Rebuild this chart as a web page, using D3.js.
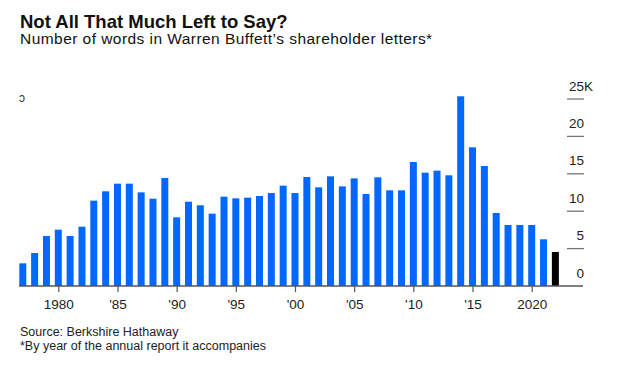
<!DOCTYPE html>
<html>
<head>
<meta charset="utf-8">
<script src="https://cdn.jsdelivr.net/npm/d3@7"></script>
<style>
  body { margin: 0; background: #fff; }
  svg { font-family: "Liberation Sans", Arial, sans-serif; display: block; }
</style>
</head>
<body>
<svg id="chart" width="624" height="370"></svg>
<script>
/* data: words per letter, by report year */
var years = d3.range(1977, 2023);
var words = [
  3030, 4410, 6680, 7530, 6680, 7930, 11410, 12660, 13680, 13680,
  12520, 11670, 14440, 9180, 11270, 10790, 9670, 11940, 11720, 11810,
  12030, 12430, 13410, 12430, 14570, 13190, 14660, 13320, 14390, 12300,
  14530, 12790, 12790, 16580, 15150, 15420, 14800, 25360, 18540, 16040,
  9760, 8160, 8160, 8160, 6240, 4550
];
var xTicks = [1980, 1985, 1990, 1995, 2000, 2005, 2010, 2015, 2020];
var xTickLabels = ['1980', "'85", "'90", "'95", "'00", "'05", "'10", "'15", '2020'];
var yTicks = [0, 5000, 10000, 15000, 20000, 25000];
var yTickLabels = ['0', '5', '10', '15', '20', '25'];

var title = 'Not All That Much Left to Say?';
var subtitle = "Number of words in Warren Buffett\u2019s shareholder letters*";
var notes = ['Source: Berkshire Hathaway', '*By year of the annual report it accompanies'];

var svg = d3.select('#chart');

// scales
var x = d3.scaleLinear().domain([1980, 2020]).range([58.3, 531.7]);
var y = d3.scaleLinear().domain([0, 25000]).range([286, 99]);
var barW = 7;

// titles
svg.append('text')
   .attr('x', 20).attr('y', 28)
   .attr('font-size', 18.5).attr('font-weight', 'bold').attr('fill', '#111')
   .text(title);
svg.append('text')
   .attr('x', 20).attr('y', 44)
   .attr('font-size', 15.5).attr('letter-spacing', 0.45).attr('fill', '#111')
   .text(subtitle);

// the stray little glyph in the top left corner
svg.append('text')
   .attr('x', 19).attr('y', 102)
   .attr('font-size', 12).attr('fill', '#333')
   .text('\u0254');

// bars
svg.append('g').selectAll('rect')
   .data(years)
   .enter().append('rect')
   .attr('x', function(d) { return x(d) - barW / 2; })
   .attr('width', barW)
   .attr('y', function(d, i) { return y(words[i]); })
   .attr('height', function(d, i) { return y(0) - y(words[i]); })
   .attr('fill', function(d, i) { return i == years.length - 1 ? '#000' : '#0068ff'; });

// y axis: short lines at the right with the numbers above them
var yAxis = svg.append('g');
yAxis.selectAll('line')
     .data(yTicks.slice(1))
     .enter().append('line')
     .attr('x1', 567).attr('x2', 584)
     .attr('y1', function(d) { return y(d); })
     .attr('y2', function(d) { return y(d); })
     .attr('stroke', '#777').attr('stroke-width', 1.3);
yAxis.selectAll('text')
     .data(yTicks)
     .enter().append('text')
     .attr('x', 584)
     .attr('y', function(d) { return y(d) - 8.5; })
     .attr('text-anchor', 'end')
     .attr('font-size', 13.5).attr('fill', '#222')
     .text(function(d, i) { return yTickLabels[i]; });
yAxis.append('text')
     .attr('x', 584).attr('y', y(25000) - 8.5)
     .attr('font-size', 13.5).attr('fill', '#222')
     .text('K');

// x axis
var xAxis = d3.axisBottom(x)
              .tickValues(xTicks)
              .tickSize(6)
              .tickPadding(7)
              .tickFormat(function(d, i) { return xTickLabels[i]; });
var gx = svg.append('g')
            .attr('transform', 'translate(0,' + y(0) + ')')
            .call(xAxis);
gx.select('.domain').remove();
gx.selectAll('.tick line').attr('stroke', '#555').attr('stroke-width', 1.2);
gx.selectAll('.tick text')
  .attr('font-family', '"Liberation Sans", Arial, sans-serif')
  .attr('font-size', 13.5).attr('fill', '#222');
svg.append('line')
   .attr('x1', 19).attr('x2', 583)
   .attr('y1', y(0)).attr('y2', y(0))
   .attr('stroke', '#555').attr('stroke-width', 1.3);

// footnotes
svg.selectAll('text.note')
   .data(notes)
   .enter().append('text')
   .attr('class', 'note')
   .attr('x', 20)
   .attr('y', function(d, i) { return 336 + i * 13.5; })
   .attr('font-size', 12.5).attr('fill', '#222')
   .text(function(d) { return d; });
</script>
</body>
</html>
